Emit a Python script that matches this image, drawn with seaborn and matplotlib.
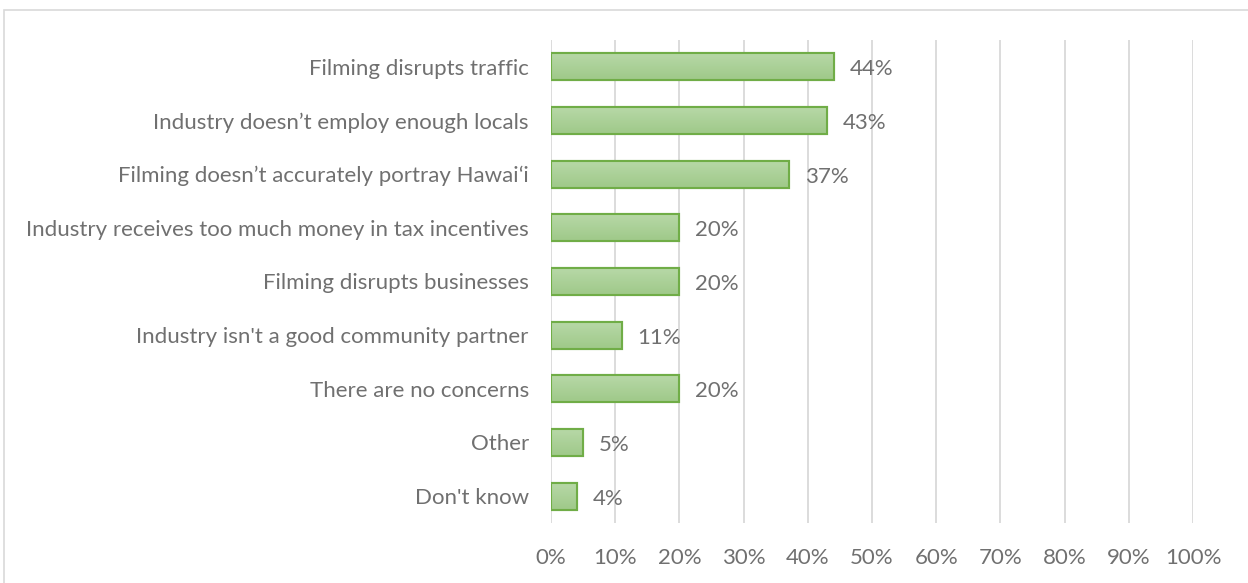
import numpy as np
import matplotlib
matplotlib.use("Agg")
import matplotlib.pyplot as plt
import seaborn as sns
import pandas as pd
from matplotlib.patches import Rectangle

# Data
concerns = [
    "Filming disrupts traffic",
    "Industry doesn\u2019t employ enough locals",
    "Filming doesn\u2019t accurately portray Hawai\u02bbi",
    "Industry receives too much money in tax incentives",
    "Filming disrupts businesses",
    "Industry isn't a good community partner",
    "There are no concerns",
    "Other",
    "Don't know",
]
shares = [44, 43, 37, 20, 20, 11, 20, 5, 4]
tick_values = list(range(0, 101, 10))

df = pd.DataFrame({"Concern": concerns, "Share": shares})

sns.set_theme(style="white")
plt.rcParams["font.family"] = ["Lato", "DejaVu Sans"]
text_color = "#707070"

fig = plt.figure(figsize=(12.48, 5.83), dpi=100)
ax = fig.add_axes([0.4415, 0.103, 0.5145, 0.8285])

sns.barplot(data=df, x="Share", y="Concern", orient="h", width=0.5,
            color="#a9cf96", edgecolor="#70ad47", linewidth=1.5, ax=ax, zorder=3)

# vertical gradient inside each bar
grad = np.linspace(0, 1, 64).reshape(-1, 1)
cmap = matplotlib.colors.LinearSegmentedColormap.from_list("g", ["#b7d8a7", "#9fc989"])
for p in ax.patches:
    x0, y0 = p.get_x(), p.get_y()
    w, h = p.get_width(), p.get_height()
    im = ax.imshow(grad, cmap=cmap, aspect="auto", extent=[x0, x0 + w, y0 + h, y0],
                   zorder=3.5, origin="upper")
    im.set_clip_path(p)
    ax.add_patch(Rectangle((x0, y0), w, h, fill=False, edgecolor="#70ad47",
                           linewidth=1.5, zorder=4))

for i, v in enumerate(shares):
    ax.text(v + 2.5, i + 0.05, f"{v}%", va="center", ha="left",
            fontsize=16, color=text_color, zorder=5)

ax.set_xlim(0, 100)
ax.set_ylim(8.5, -0.5)
ax.set_xticks(tick_values)
ax.set_xticklabels([f"{t}%" for t in tick_values])
for t in tick_values:
    ax.axvline(t, color="#d9d9d9", linewidth=1.3, zorder=1)
ax.tick_params(axis="x", length=0, pad=18, labelsize=16, labelcolor=text_color)
ax.tick_params(axis="y", length=0, pad=16, labelsize=16, labelcolor=text_color)
ax.set_xlabel("")
ax.set_ylabel("")
for s in ax.spines.values():
    s.set_visible(False)

# chart border
fig.add_artist(Rectangle((4 / 1248, -0.01), 1.2, 1 - 10 / 583 + 0.01,
                         transform=fig.transFigure, fill=False,
                         edgecolor="#d9d9d9", linewidth=1.2))

fig.savefig("out.png", dpi=100)
